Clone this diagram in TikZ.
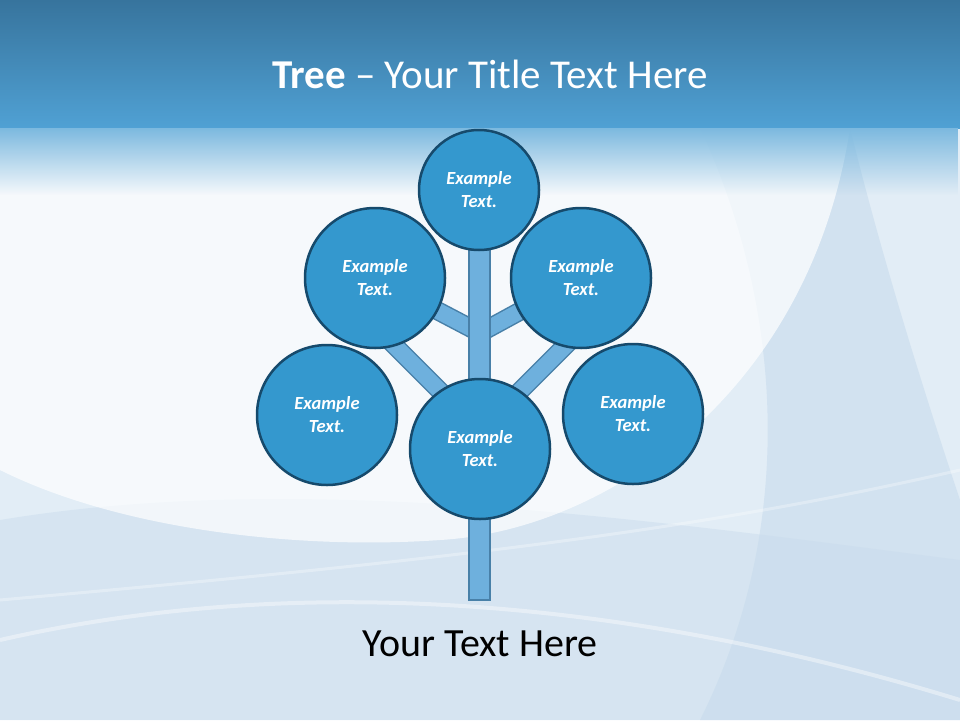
\documentclass[tikz,border=0pt]{standalone}
\usepackage{fontspec}
\setmainfont{Carlito}
\usetikzlibrary{positioning}
\usetikzlibrary{fadings}
\definecolor{bandtop}{RGB}{55,116,157}
\definecolor{bandbot}{RGB}{80,161,212}
\definecolor{paper}{RGB}{226,237,246}
\definecolor{haze}{RGB}{200,219,236}
\definecolor{leaffill}{RGB}{52,152,206}
\definecolor{leafedge}{RGB}{22,74,108}
\definecolor{woodfill}{RGB}{110,176,221}
\definecolor{woodedge}{RGB}{72,128,168}
\pgfdeclarelayer{backdrop}
\pgfdeclarelayer{wood}
\pgfsetlayers{backdrop,wood,main}
\tikzset{
        leaf/.style={
          circle, fill=leaffill, draw=leafedge, line width=2.5pt,
          inner sep=0pt, minimum size=140pt, text=white, align=center,
          font=\fontsize{18.5}{23}\selectfont\bfseries\itshape
          },
        leafsmall/.style={leaf, minimum size=120pt},
        branch/.style={
          draw=woodedge, line width=1.5pt, double=woodfill, double distance=16pt
          },
        trunk/.style={
          rectangle, fill=woodfill, draw=woodedge, line width=1.5pt,
          inner sep=0pt, minimum width=21pt, minimum height=350pt
          },
}

\begin{document}
\begin{tikzpicture}[x=1pt, y=-1pt]
      \useasboundingbox (0,0) rectangle (960,720);
      % BACKGROUND
      \begin{pgfonlayer}{backdrop}
      \fill[paper] (0,0) rectangle (960,720);
      \fill[haze, opacity=0.6] (700,128) .. controls (780,300) and (800,520) .. (700,720)
        -- (960,720) -- (960,500) .. controls (920,380) and (880,250) .. (850,128) -- cycle;
      \fill[haze, opacity=0.45] (0,520) .. controls (300,470) and (650,520) .. (960,560)
        -- (960,720) -- (0,720) -- cycle;
      \fill[white, opacity=0.7] (0,128) -- (0,470) .. controls (120,530) and (300,550) .. (440,540)
        .. controls (610,530) and (810,390) .. (850,128) -- cycle;
      \draw[white, opacity=0.4, line width=4pt] (0,640) .. controls (350,560) and (700,620) .. (960,700);
      \draw[white, opacity=0.3, line width=3pt] (960,470) .. controls (700,530) and (450,560) .. (0,600);
      \shade[top color=bandtop, bottom color=bandbot] (0,0) rectangle (960,128);
      \fill[bandbot!75!white, path fading=south] (0,128) rectangle (960,195);
      \end{pgfonlayer}
      % TITLE
      \node[anchor=base, text=white, font=\fontsize{41}{48}\selectfont] (title) at (490,88)
        {\textbf{Tree} – Your Title Text Here};

      % LEAVES
      \node[leafsmall] (leafT) at (479,190) {Example\\Text.};
      \node[leaf] (leafUL) at (375,278) {Example\\Text.};
      \node[leaf] (leafUR) at (581,278) {Example\\Text.};
      \node[leaf] (leafL) at (327,415) {Example\\Text.};
      \node[leaf] (leafR) at (633,414) {Example\\Text.};
      \node[leaf] (leafC) at (480,449) {Example\\Text.};

      % STEM AND BRANCHES (behind the leaves)
      \coordinate (forkhi) at (480,333);
      \coordinate (forklo) at (480,431);
      \coordinate (tipUL) at (380,331);
      \coordinate (tipUR) at (580,331);
      \begin{pgfonlayer}{wood}
      \draw[branch] (forkhi) -- (leafUL.center);
      \draw[branch] (forkhi) -- (leafUR.center);
      \draw[branch] (forklo) -- (tipUL);
      \draw[branch] (forklo) -- (tipUR);
      \node[trunk] (stem) at (479.5,425) {};
      \end{pgfonlayer}

      % CAPTION
      \node[anchor=base, text=black, font=\fontsize{40}{48}\selectfont] (caption) at (480,656)
        {Your Text Here};
\end{tikzpicture}
\end{document}
